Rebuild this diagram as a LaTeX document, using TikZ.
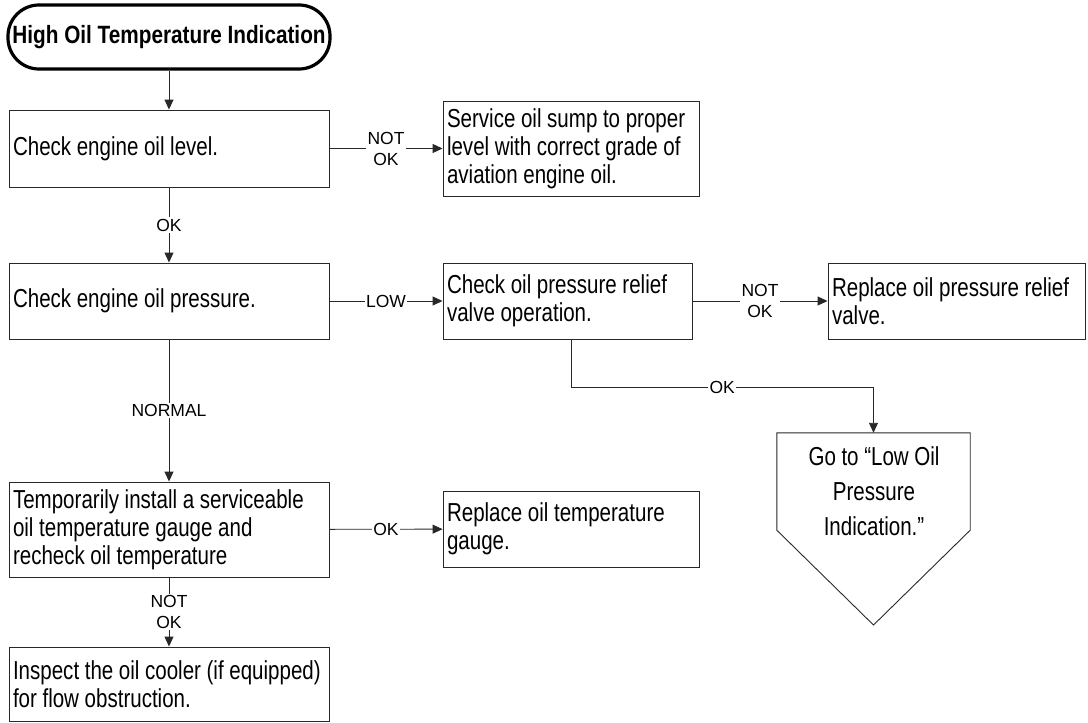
\documentclass[tikz,border=0pt]{standalone}
\usepackage{fontspec}
\setmainfont{Liberation Sans}
\newfontfamily\narrowfont[FakeStretch=0.79]{Liberation Sans}
\newfontfamily\titlefont[FakeStretch=0.83]{Liberation Sans}
\usetikzlibrary{arrows.meta,calc}
\definecolor{ink}{RGB}{40,40,40}
\begin{document}
\begin{tikzpicture}[x=1pt,y=-1pt,
  stepbox/.style={draw=ink, line width=0.9pt, inner xsep=4pt, inner ysep=0pt,
    align=left, font=\narrowfont\fontsize{26}{28}\selectfont, anchor=center,
    execute at begin node={\spaceskip=5.6pt plus 1pt minus 1pt\xspaceskip=\spaceskip
      \hyphenpenalty=10000\relax}},
  startbox/.style={draw=black, line width=3.2pt, rounded corners=31pt,
    minimum width=322pt, minimum height=64pt, inner sep=0pt,
    font=\titlefont\bfseries\fontsize{25}{28}\selectfont},
  lbl/.style={fill=white, inner sep=1.5pt, align=center,
    font=\fontsize{17.5}{21}\selectfont},
  conn/.style={draw=ink, line width=0.9pt},
  arr/.style={conn, -{Triangle[length=10pt,width=9pt]}}
]
\useasboundingbox (0,0) rectangle (1088,723);
\clip (0,0) rectangle (1088,723);

% terminal
\node[startbox] (start) at (169,37) {High Oil Temperature Indication};

% left column of checks
\node[stepbox, text width=312pt, minimum height=77pt] (level) at (169,148.5) {Check engine oil level.};
\node[stepbox, text width=312pt, minimum height=76pt] (press) at (169,301) {Check engine oil pressure.};
\node[stepbox, text width=312pt, minimum height=95pt] (gauge) at (169,529.5)
  {\mbox{Temporarily install a serviceable}\\\mbox{oil temperature gauge and}\\\mbox{recheck oil temperature}};
\node[stepbox, text width=312pt, minimum height=74pt] (cooler) at (169,684)
  {\mbox{Inspect the oil cooler (if equipped)}\\\mbox{for flow obstruction.}};

% actions to the right
\node[stepbox, text width=248pt, minimum height=95pt] (sump) at (571,148.5)
  {\mbox{Service oil sump to proper}\\\mbox{level with correct grade of}\\\mbox{aviation engine oil.}};
\node[stepbox, text width=241pt, minimum height=76pt] (relief) at (567.5,301)
  {\mbox{Check oil pressure relief}\\\mbox{valve operation.}};
\node[stepbox, text width=249pt, minimum height=76pt] (valve) at (956.5,301)
  {\mbox{Replace oil pressure relief}\\\mbox{valve.}};
\node[stepbox, text width=248pt, minimum height=76pt] (newgauge) at (571,529)
  {\mbox{Replace oil temperature}\\\mbox{gauge.}};

% off-page connector
\node[minimum width=193pt, minimum height=97pt, inner sep=0pt] (goto) at (873.5,481.5) {};
\draw[ink, line width=0.9pt] (goto.north west) -- (goto.north east) -- (goto.south east)
  -- (873.5,625) -- (goto.south west) -- cycle;
\node[align=center, inner sep=0pt, font=\narrowfont\fontsize{26}{35}\selectfont,
  execute at begin node={\spaceskip=5.6pt\relax}] (gototext) at (874,491)
  {Go to “Low Oil\\Pressure\\Indication.”};

% connectors
\draw[arr] (start) -- (level);
\draw[arr] (level) -- node[lbl] {OK} (press);
\draw[arr] (level) -- node[lbl] {NOT\\OK} (sump);
\draw[arr] (press) -- node[lbl] {LOW} (relief);
\draw[arr] (relief) -- node[lbl] {NOT\\OK} (valve);
\draw[arr] ([xshift=3.5pt]relief.south) -- ++(0,48) -| node[lbl, pos=0.25] {OK} (goto.north);
\draw[arr] (press) -- node[lbl] {NORMAL} (gauge);
\draw[arr] (gauge) -- node[lbl] {OK} (newgauge);
\draw[arr] (gauge) -- node[lbl] {NOT\\OK} (cooler);
\end{tikzpicture}
\end{document}
